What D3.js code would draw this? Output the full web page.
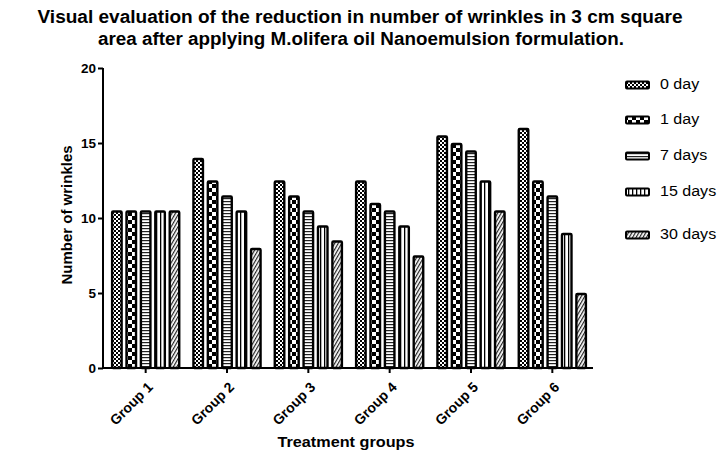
<!DOCTYPE html>
<html>
<head>
<meta charset="utf-8">
<script src="https://cdn.jsdelivr.net/npm/d3@7/dist/d3.min.js"></script>
<style>
  html, body { margin: 0; padding: 0; background: #fff; }
  svg { display: block; font-family: "Liberation Sans", Arial, sans-serif; }
</style>
</head>
<body>
<svg id="chart" width="719" height="454"></svg>
<script>
const groups = ["Group 1", "Group 2", "Group 3", "Group 4", "Group 5", "Group 6"];
const series = ["0 day", "1 day", "7 days", "15 days", "30 days"];
const day0  = [10.5, 14,   12.5, 12.5, 15.5, 16];
const day1  = [10.5, 12.5, 11.5, 11,   15,   12.5];
const day7  = [10.5, 11.5, 10.5, 10.5, 14.5, 11.5];
const day15 = [10.5, 10.5, 9.5,  9.5,  12.5, 9];
const day30 = [10.5, 8,    8.5,  7.5,  10.5, 5];
const yTicks = [0, 5, 10, 15, 20];
const values = [day0, day1, day7, day15, day30];

const svg = d3.select("#chart");
const defs = svg.append("defs");

// Patterns
const p0 = defs.append("pattern").attr("id", "pat0").attr("patternUnits", "userSpaceOnUse")
  .attr("width", 4).attr("height", 4);
p0.append("rect").attr("width", 4).attr("height", 4).attr("fill", "#fff");
p0.append("rect").attr("x", 0).attr("y", 0).attr("width", 2).attr("height", 2).attr("fill", "#000");
p0.append("rect").attr("x", 2).attr("y", 2).attr("width", 2).attr("height", 2).attr("fill", "#000");

const p1 = defs.append("pattern").attr("id", "pat1").attr("patternUnits", "userSpaceOnUse")
  .attr("width", 8).attr("height", 8);
p1.append("rect").attr("width", 8).attr("height", 8).attr("fill", "#000");
p1.append("rect").attr("x", 0).attr("y", 0).attr("width", 4).attr("height", 4).attr("fill", "#fff");
p1.append("rect").attr("x", 4).attr("y", 4).attr("width", 4).attr("height", 4).attr("fill", "#fff");

const p2 = defs.append("pattern").attr("id", "pat2").attr("patternUnits", "userSpaceOnUse")
  .attr("width", 4).attr("height", 3);
p2.append("rect").attr("width", 4).attr("height", 3).attr("fill", "#fff");
p2.append("rect").attr("x", 0).attr("y", 0).attr("width", 4).attr("height", 1.2).attr("fill", "#222");

const p3 = defs.append("pattern").attr("id", "pat3").attr("patternUnits", "userSpaceOnUse")
  .attr("width", 4).attr("height", 4);
p3.append("rect").attr("width", 4).attr("height", 4).attr("fill", "#fff");
p3.append("rect").attr("x", 0).attr("y", 0).attr("width", 1.3).attr("height", 4).attr("fill", "#000");

const p4 = defs.append("pattern").attr("id", "pat4").attr("patternUnits", "userSpaceOnUse")
  .attr("width", 3).attr("height", 3).attr("patternTransform", "rotate(30)");
p4.append("rect").attr("width", 3).attr("height", 3).attr("fill", "#fff");
p4.append("rect").attr("x", 0).attr("y", 0).attr("width", 1.2).attr("height", 3).attr("fill", "#222");

const patIds = ["pat0", "pat1", "pat2", "pat3", "pat4"];

// Scales
const x0 = d3.scaleBand().domain(groups).range([105, 593]).paddingInner(0.15).paddingOuter(0.075);
const x1 = d3.scaleBand().domain(series).range([0, x0.bandwidth()]).paddingInner(0.2).paddingOuter(0);
const y = d3.scaleLinear().domain([0, 20]).range([368, 68]);

// Title
const title = svg.append("text").attr("text-anchor", "middle").attr("font-weight", "bold")
  .attr("font-size", 17.5).attr("fill", "#000");
title.append("tspan").attr("x", 360).attr("y", 23)
  .attr("textLength", 645).attr("lengthAdjust", "spacingAndGlyphs")
  .text("Visual evaluation of the reduction in number of wrinkles in 3 cm square");
title.append("tspan").attr("x", 361).attr("y", 45)
  .attr("textLength", 526).attr("lengthAdjust", "spacingAndGlyphs")
  .text("area after applying M.olifera oil Nanoemulsion formulation.");

// Bars
const gBars = svg.append("g");
groups.forEach((g, gi) => {
  series.forEach((s, si) => {
    const v = values[si][gi];
    gBars.append("rect")
      .attr("x", x0(g) + x1(s) + 1)
      .attr("y", y(v) + 1)
      .attr("width", x1.bandwidth() - 2)
      .attr("height", y(0) - y(v) - 1)
      .attr("rx", 1)
      .attr("fill", `url(#${patIds[si]})`)
      .attr("stroke", "#000")
      .attr("stroke-width", 2.4);
  });
});

// Y axis
const yAxis = svg.append("g").attr("transform", "translate(103,0)")
  .call(d3.axisLeft(y).tickValues(yTicks).tickSize(5).tickPadding(2).tickFormat(d3.format("d")));
yAxis.select(".domain").attr("stroke-width", 2).attr("d", `M0,${y(20)}V${y(0)}`);
yAxis.selectAll(".tick line").attr("stroke-width", 2);
yAxis.selectAll(".tick text").attr("font-size", 13.5).attr("font-weight", "bold")
  .attr("font-family", "Liberation Sans, Arial, sans-serif").attr("fill", "#000");

// X axis
const xAxis = svg.append("g").attr("transform", "translate(0,368)")
  .call(d3.axisBottom(x0).tickSize(5).tickSizeOuter(0));
xAxis.select(".domain").attr("stroke-width", 2).attr("d", "M102,0H593");
xAxis.selectAll(".tick line").attr("stroke-width", 2);
xAxis.selectAll(".tick text")
  .attr("font-size", 14).attr("font-weight", "bold")
  .attr("font-family", "Liberation Sans, Arial, sans-serif").attr("fill", "#000")
  .attr("text-anchor", "end")
  .attr("dy", null).attr("y", 0)
  .attr("transform", "translate(8,20) rotate(-45)");

// Axis titles
svg.append("text").attr("x", 346).attr("y", 447).attr("text-anchor", "middle")
  .attr("font-weight", "bold").attr("font-size", 15)
  .attr("textLength", 137).attr("lengthAdjust", "spacingAndGlyphs").text("Treatment groups");
svg.append("text").attr("transform", "translate(72,215) rotate(-90)").attr("text-anchor", "middle")
  .attr("font-weight", "bold").attr("font-size", 15).text("Number of wrinkles");

// Legend
const legendBase = [89, 124, 160, 196, 239];
const legend = svg.append("g");
series.forEach((s, si) => {
  legend.append("rect").attr("x", 626).attr("y", legendBase[si] - 7.5).attr("width", 23).attr("height", 7)
    .attr("fill", `url(#${patIds[si]})`).attr("stroke", "#000").attr("stroke-width", 2).attr("rx", 1);
  legend.append("text").attr("transform", `translate(660,${legendBase[si]}) scale(1.07,1)`)
    .attr("font-size", 15).attr("fill", "#000").text(s);
});
</script>
</body>
</html>
